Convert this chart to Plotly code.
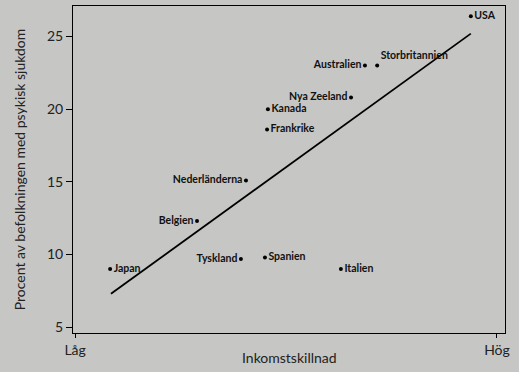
import plotly.graph_objects as go

countries = ["Japan", "Belgien", "Nederländerna", "Tyskland", "Spanien", "Italien",
             "Frankrike", "Kanada", "Nya Zeeland", "Australien", "Storbritannien", "USA"]
inequality = [8.3, 28.9, 40.5, 39.3, 45.0, 63.0, 45.5, 45.7, 65.4, 68.7, 71.6, 93.8]
mental_illness = [9.0, 12.3, 15.1, 9.7, 9.8, 9.0, 18.6, 20.0, 20.8, 23.0, 23.0, 26.4]
label_pos = ["middle right", "middle left", "middle left", "middle left", "middle right",
             "middle right", "middle right", "middle right", "middle left", "middle left",
             "top right", "middle right"]

trend_x = [8.5, 93.8]
trend_y = [7.3, 25.2]

x_tick_vals = [0, 100]
x_tick_text = ["Låg", "Hög"]
y_tick_vals = [5, 10, 15, 20, 25]

bg = "#c6c6c4"

fig = go.Figure()
fig.add_trace(go.Scatter(x=trend_x, y=trend_y, mode="lines",
                         line=dict(color="black", width=1.8), hoverinfo="skip"))
fig.add_trace(go.Scatter(x=inequality, y=mental_illness, mode="markers+text",
                         text=countries, textposition=label_pos,
                         textfont=dict(family="Lato", size=10.5, color="#111111", weight="bold"),
                         marker=dict(color="black", size=4)))

fig.update_layout(
    width=519, height=372,
    margin=dict(l=73, r=14, t=6, b=39),
    paper_bgcolor=bg, plot_bgcolor=bg,
    showlegend=False,
    font=dict(family="Lato", color="#222222"),
    annotations=[dict(text="Inkomstskillnad", xref="paper", yref="paper", x=0.5, y=0,
                      yshift=-24, xanchor="center", yanchor="middle", showarrow=False,
                      font=dict(size=14, color="#222222"))],
)
fig.update_xaxes(range=[-0.5, 101.9], tickvals=x_tick_vals, ticktext=x_tick_text,
                 ticks="outside", ticklen=4, tickcolor="black", automargin=False,
                 tickfont=dict(size=14, color="#222222"),
                 showgrid=False, zeroline=False, showline=True, linecolor="black",
                 linewidth=1, mirror=True)
fig.update_yaxes(range=[4.6, 27.1], tickvals=y_tick_vals,
                 ticks="outside", ticklen=6, tickcolor="black", automargin=False,
                 tickfont=dict(size=14, color="#222222"),
                 showgrid=False, zeroline=False, showline=True, linecolor="black",
                 linewidth=1, mirror=True,
                 title=dict(text="Procent av befolkningen med psykisk sjukdom",
                            font=dict(size=14, color="#222222"), standoff=18))

fig.write_html("out.html")
